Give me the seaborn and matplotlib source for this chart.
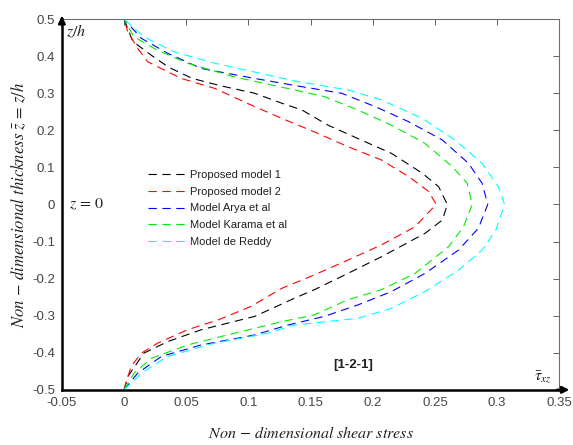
import numpy as np
import pandas as pd
import seaborn as sns
import matplotlib.pyplot as plt

# curves: z (thickness) and tau (shear stress)
z_m1 = [-0.5, -0.464, -0.401, -0.370, -0.338, -0.302, -0.253, -0.230, -0.186, -0.141, -0.078, -0.042, 0.0,
        0.048, 0.084, 0.138, 0.178, 0.214, 0.255, 0.273, 0.30, 0.32, 0.34, 0.37, 0.40, 0.44, 0.5]
tau_m1 = [0.0, 0.003, 0.016, 0.035, 0.062, 0.105, 0.137, 0.153, 0.180, 0.207, 0.242, 0.256, 0.260,
          0.253, 0.240, 0.215, 0.188, 0.164, 0.143, 0.127, 0.105, 0.078, 0.055, 0.036, 0.023, 0.007, 0.0]

z_m2 = [-0.5, -0.482, -0.437, -0.401, -0.374, -0.338, -0.311, -0.275, -0.226, -0.190, -0.150, -0.109, -0.060, 0.0,
        0.035, 0.075, 0.120, 0.156, 0.196, 0.232, 0.264, 0.313, 0.340, 0.385, 0.421, 0.466, 0.5]
tau_m2 = [0.0, 0.0016, 0.0056, 0.014, 0.027, 0.051, 0.076, 0.102, 0.127, 0.153, 0.180, 0.207, 0.234, 0.251,
          0.245, 0.229, 0.207, 0.180, 0.153, 0.127, 0.105, 0.073, 0.046, 0.019, 0.011, 0.003, 0.0]

z_arya = [-0.5, -0.455, -0.410, -0.379, -0.352, -0.325, -0.302, -0.271, -0.235, -0.186, -0.123, -0.064, 0.0,
          0.057, 0.111, 0.174, 0.223, 0.264, 0.300, 0.320, 0.340, 0.367, 0.408, 0.448, 0.5]
tau_arya = [0.0, 0.011, 0.030, 0.062, 0.105, 0.132, 0.161, 0.188, 0.215, 0.242, 0.269, 0.285, 0.2925,
            0.288, 0.277, 0.256, 0.229, 0.202, 0.175, 0.139, 0.105, 0.062, 0.035, 0.014, 0.0]

z_karama = [-0.5, -0.455, -0.415, -0.379, -0.347, -0.316, -0.298, -0.257, -0.230, -0.186, -0.114, -0.060, 0.0,
            0.057, 0.102, 0.165, 0.214, 0.255, 0.291, 0.309, 0.344, 0.381, 0.416, 0.452, 0.5]
tau_karama = [0.0, 0.008, 0.022, 0.051, 0.089, 0.127, 0.153, 0.180, 0.207, 0.234, 0.261, 0.273, 0.280,
              0.276, 0.264, 0.242, 0.215, 0.188, 0.161, 0.137, 0.089, 0.051, 0.027, 0.008, 0.0]

z_reddy = [-0.5, -0.455, -0.410, -0.374, -0.347, -0.326, -0.307, -0.280, -0.235, -0.177, -0.123, -0.069, 0.0,
           0.048, 0.111, 0.174, 0.232, 0.282, 0.309, 0.334, 0.349, 0.381, 0.412, 0.452, 0.5]
tau_reddy = [0.0, 0.014, 0.035, 0.073, 0.116, 0.136, 0.188, 0.215, 0.242, 0.269, 0.288, 0.299, 0.306,
             0.301, 0.288, 0.266, 0.240, 0.207, 0.180, 0.136, 0.116, 0.073, 0.040, 0.016, 0.0]

models = ['Proposed model 1', 'Proposed model 2', 'Model Arya et al', 'Model Karama et al', 'Model de Reddy']
colours = ['black', 'red', 'blue', '#00ee00', 'cyan']

xticks = [-0.05, 0, 0.05, 0.1, 0.15, 0.2, 0.25, 0.3, 0.35]
xlabels = ['-0.05', '0', '0.05', '0.1', '0.15', '0.2', '0.25', '0.3', '0.35']
yticks = [-0.5, -0.4, -0.3, -0.2, -0.1, 0, 0.1, 0.2, 0.3, 0.4, 0.5]
ylabels = ['-0.5', '-0.4', '-0.3', '-0.2', '-0.1', '0', '0.1', '0.2', '0.3', '0.4', '0.5']

sns.set_style('white')
plt.rcParams['font.family'] = ['Liberation Sans', 'DejaVu Sans']
plt.rcParams['mathtext.fontset'] = 'stix'
plt.rcParams['axes.unicode_minus'] = False

fig = plt.figure(figsize=(5.73, 4.45), dpi=100)
ax = fig.add_axes([0.108, 0.124, 0.868, 0.833])

curves = [(z_m1, tau_m1), (z_m2, tau_m2), (z_arya, tau_arya), (z_karama, tau_karama), (z_reddy, tau_reddy)]
for (z, tau), name, c in zip(curves, models, colours):
    df = pd.DataFrame({'tau': tau, 'z': z})
    sns.lineplot(data=df, x='tau', y='z', sort=False, estimator=None, ax=ax, color=c,
                 lw=0.8, dashes=False, label=name)
    ax.lines[-1].set_linestyle((0, (7.5, 5)))

ax.set_xlim(-0.05, 0.35)
ax.set_ylim(-0.5, 0.5)
ax.set_xticks(xticks)
ax.set_xticklabels(xlabels)
ax.set_yticks(yticks)
ax.set_yticklabels(ylabels)
ax.tick_params(direction='in', length=4, width=0.7, color='#606060', labelcolor='#454545',
               labelsize=9.5, top=True, right=True, pad=5)

for s in ['top', 'right']:
    ax.spines[s].set_color('#707070')
    ax.spines[s].set_linewidth(0.8)
for s in ['left', 'bottom']:
    ax.spines[s].set_color('black')
    ax.spines[s].set_linewidth(1.8)

# arrow heads on the main axes
ax.annotate('', xy=(0, 1.016), xytext=(0, 0.99), xycoords='axes fraction',
            arrowprops=dict(arrowstyle='-|>', color='black', lw=1.8, mutation_scale=10))
ax.annotate('', xy=(1.026, 0), xytext=(0.99, 0), xycoords='axes fraction',
            arrowprops=dict(arrowstyle='-|>', color='black', lw=1.8, mutation_scale=10),
            annotation_clip=False)

ax.text(-0.047, 0.466, r'$z/h$', fontsize=11.5, color='#202020', va='center')
ax.text(-0.044, 0.0, r'$z\,=\,0$', fontsize=11.5, color='#202020', va='center')
ax.text(0.168, -0.433, '[1-2-1]', fontsize=9.5, fontweight='bold', color='#202020', va='center')
ax.text(0.330, -0.466, r'$\bar{\tau}_{xz}$', fontsize=11.5, color='#202020', va='center')

ax.set_xlabel(r'$Non\,-\,dimensional\ shear\ stress$', fontsize=11.5, labelpad=12, color='#202020')
ax.set_ylabel(r'$Non\,-\,dimensional\ thickness\ \bar{z}\,=\,z/h$', fontsize=12, labelpad=3,
              color='#202020')

leg = ax.legend(loc='upper left', bbox_to_anchor=(0.165, 0.606), frameon=False, fontsize=8,
                handlelength=3.3, labelspacing=0.62, handletextpad=0.4, borderaxespad=0)
for t in leg.get_texts():
    t.set_color('#202020')

fig.savefig('out.png', dpi=100)
